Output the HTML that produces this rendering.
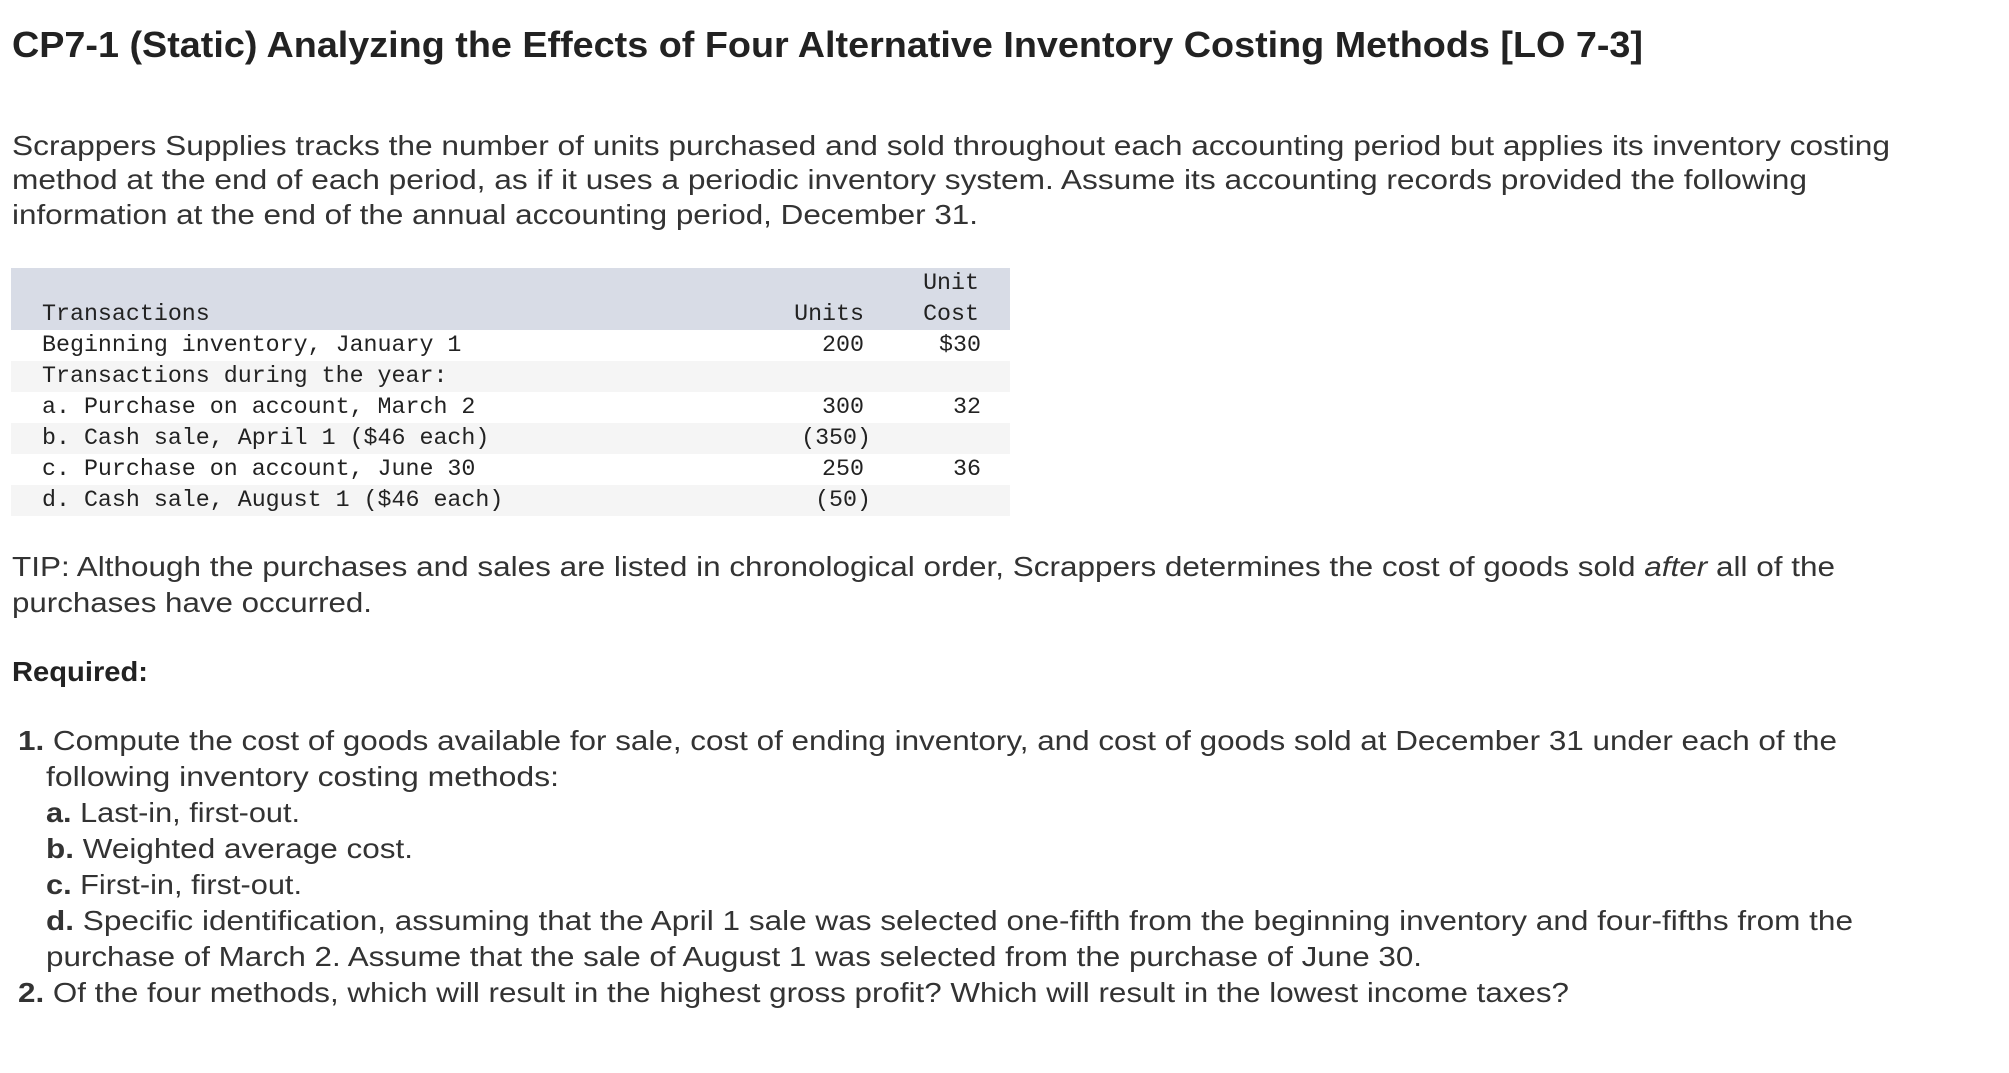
<!DOCTYPE html>
<html><head><meta charset="utf-8">
<style>
html,body{margin:0;padding:0;background:#fff;}
body{width:2009px;height:1073px;position:relative;overflow:hidden;font-family:"Liberation Sans",sans-serif;color:#333;}
.ln{position:absolute;white-space:nowrap;line-height:36px;font-size:28px;transform-origin:0 50%;}
.title{font-size:36px;font-weight:bold;color:#222;line-height:44px;}
.mono{position:absolute;font-family:"Liberation Mono",monospace;font-size:23.3px;line-height:31px;color:#222;white-space:nowrap;}
.row{position:absolute;left:11px;width:999px;height:31px;}
.r{text-align:right;}
</style></head><body>
<div class="ln title" data-fit="1631" style="left:12px;top:23px">CP7-1 (Static) Analyzing the Effects of Four Alternative Inventory Costing Methods [LO 7-3]</div>

<div class="ln" data-fit="1878" style="left:12px;top:128px">Scrappers Supplies tracks the number of units purchased and sold throughout each accounting period but applies its inventory costing</div>
<div class="ln" data-fit="1795" style="left:12px;top:162px">method at the end of each period, as if it uses a periodic inventory system. Assume its accounting records provided the following</div>
<div class="ln" data-fit="966" style="left:12px;top:197px">information at the end of the annual accounting period, December 31.</div>

<div>
<div class="row" style="top:268px;height:62px;background:#d8dce6"></div>
<div class="row" style="top:361px;background:#f5f5f5"></div>
<div class="row" style="top:423px;background:#f5f5f5"></div>
<div class="row" style="top:485px;background:#f5f5f5"></div>
<div class="mono" style="left:42px;top:299px">Transactions</div>
<div class="mono r" style="right:1145px;top:299px">Units</div>
<div class="mono r" style="right:1030px;top:268px">Unit</div>
<div class="mono r" style="right:1030px;top:299px">Cost</div>

<div class="mono" style="left:42px;top:330px">Beginning inventory, January 1</div>
<div class="mono r" style="right:1145px;top:330px">200</div>
<div class="mono r" style="right:1028px;top:330px">$30</div>
<div class="mono" style="left:42px;top:361px">Transactions during the year:</div>
<div class="mono" style="left:42px;top:392px">a. Purchase on account, March 2</div>
<div class="mono r" style="right:1145px;top:392px">300</div>
<div class="mono r" style="right:1028px;top:392px">32</div>
<div class="mono" style="left:42px;top:423px">b. Cash sale, April 1 ($46 each)</div>
<div class="mono r" style="right:1138px;top:423px">(350)</div>
<div class="mono" style="left:42px;top:454px">c. Purchase on account, June 30</div>
<div class="mono r" style="right:1145px;top:454px">250</div>
<div class="mono r" style="right:1028px;top:454px">36</div>
<div class="mono" style="left:42px;top:485px">d. Cash sale, August 1 ($46 each)</div>
<div class="mono r" style="right:1138px;top:485px">(50)</div>
</div>

<div class="ln" data-fit="1823" style="left:12px;top:549px">TIP: Although the purchases and sales are listed in chronological order, Scrappers determines the cost of goods sold <i>after</i> all of the</div>
<div class="ln" data-fit="360" style="left:12px;top:585px">purchases have occurred.</div>

<div class="ln" data-fit="136" style="left:12px;top:654px;font-weight:bold;color:#222">Required:</div>

<div class="ln" data-fit="1819" style="left:18px;top:723px"><b>1.</b> Compute the cost of goods available for sale, cost of ending inventory, and cost of goods sold at December 31 under each of the</div>
<div class="ln" data-fit="513" style="left:46px;top:759px">following inventory costing methods:</div>
<div class="ln" data-fit="254" style="left:46px;top:795px"><b>a.</b> Last-in, first-out.</div>
<div class="ln" data-fit="367" style="left:46px;top:831px"><b>b.</b> Weighted average cost.</div>
<div class="ln" data-fit="256" style="left:46px;top:867px"><b>c.</b> First-in, first-out.</div>
<div class="ln" data-fit="1807" style="left:46px;top:903px"><b>d.</b> Specific identification, assuming that the April 1 sale was selected one-fifth from the beginning inventory and four-fifths from the</div>
<div class="ln" data-fit="1376" style="left:46px;top:939px">purchase of March 2. Assume that the sale of August 1 was selected from the purchase of June 30.</div>
<div class="ln" data-fit="1551" style="left:18px;top:975px"><b>2.</b> Of the four methods, which will result in the highest gross profit? Which will result in the lowest income taxes?</div>

<script>
document.querySelectorAll('[data-fit]').forEach(function(el){
  var t=parseFloat(el.getAttribute('data-fit'));
  var w=el.getBoundingClientRect().width;
  if(w>0){el.style.transform='scaleX('+(t/w)+')';}
});
</script>
</body></html>
